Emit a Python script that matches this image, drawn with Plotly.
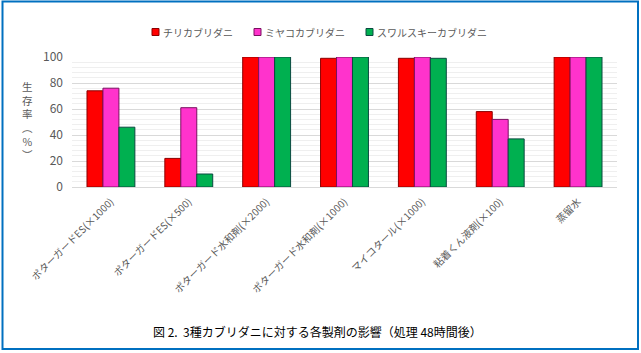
import plotly.graph_objects as go

categories = ["ポターガードES(×1000)", "ポターガードES(×500)", "ポターガード水和剤(×2000)",
              "ポターガード水和剤(×1000)", "マイコタール(×1000)", "粘着くん液剤(×100)", "蒸留水"]
series_names = ["チリカブリダニ", "ミヤコカブリダニ", "スワルスキーカブリダニ"]
chiri = [74, 22, 100, 99, 99, 58, 100]
miyako = [76, 61, 100, 100, 100, 52, 100]
suwaru = [46, 10, 100, 100, 99, 37, 100]
y_ticks = [0, 20, 40, 60, 80, 100]
y_title = "生<br>存<br>率<br>︵<br>%<br>︶"

colors = ["#FF0000", "#FF33CC", "#00B050"]
edges = ["#8B0000", "#7A1060", "#0A4A40"]

W, H = 641, 353
L, R, T, B = 72, 617, 57, 187
pw, ph = R - L, B - T

def px(x):
    return (x - L) / pw

def py(y):
    return (B - y) / ph

fig = go.Figure()
for name, vals, c, e in zip(series_names, [chiri, miyako, suwaru], colors, edges):
    fig.add_trace(go.Bar(x=categories, y=vals, name=name, showlegend=False,
                         marker=dict(color=c, line=dict(color=e, width=1))))

font = "Noto Sans CJK JP, Noto Sans, sans-serif"
shapes = [dict(type="rect", xref="paper", yref="paper",
               x0=px(2.5), x1=px(638), y0=py(1.5), y1=py(349),
               line=dict(color="#0070C0", width=2), layer="below")]
annotations = []

# custom legend (compact, like the reference)
leg_sq_x = [152, 254, 366]
leg_y = 32
for name, c, e, sx in zip(series_names, colors, edges, leg_sq_x):
    shapes.append(dict(type="rect", xref="paper", yref="paper",
                       x0=px(sx), x1=px(sx + 7), y0=py(leg_y + 3.5), y1=py(leg_y - 3.5),
                       fillcolor=c, line=dict(color=e, width=1)))
    annotations.append(dict(text=name, xref="paper", yref="paper", x=px(sx + 9), y=py(leg_y),
                            xanchor="left", yanchor="middle", showarrow=False,
                            font=dict(size=10, color="#595959")))

# vertical y-axis title
annotations.append(dict(text=y_title, xref="paper", yref="paper", x=px(27), y=py(120),
                        xanchor="center", yanchor="middle", showarrow=False, align="center",
                        font=dict(size=10.5, color="#595959")))

annotations.append(dict(text="図 2.  3種カブリダニに対する各製剤の影響（処理 48時間後）",
                        xref="paper", yref="paper", x=px(317), y=py(331), showarrow=False,
                        xanchor="center", yanchor="middle", font=dict(size=12, color="#000000")))

fig.update_layout(
    width=W, height=H,
    margin=dict(l=L, r=W - R, t=T, b=H - B),
    paper_bgcolor="white", plot_bgcolor="white",
    barmode="group", bargap=0.385, bargroupgap=0.0,
    font=dict(family=font, color="#595959", size=11),
    showlegend=False,
    xaxis=dict(tickangle=-45, tickfont=dict(size=10, color="#595959"),
               showline=True, linecolor="#D9D9D9", linewidth=1, ticks="",
               ticklabelstandoff=4),
    yaxis=dict(range=[0, 100], tickvals=y_ticks, tickfont=dict(size=12, color="#595959"),
               showgrid=True, gridcolor="#D9D9D9", gridwidth=1, zeroline=False,
               minor=dict(dtick=4, showgrid=True, gridcolor="#EFEFEF", gridwidth=1),
               ticklabelstandoff=8),
    shapes=shapes,
    annotations=annotations,
)

fig.write_html("out.html")
